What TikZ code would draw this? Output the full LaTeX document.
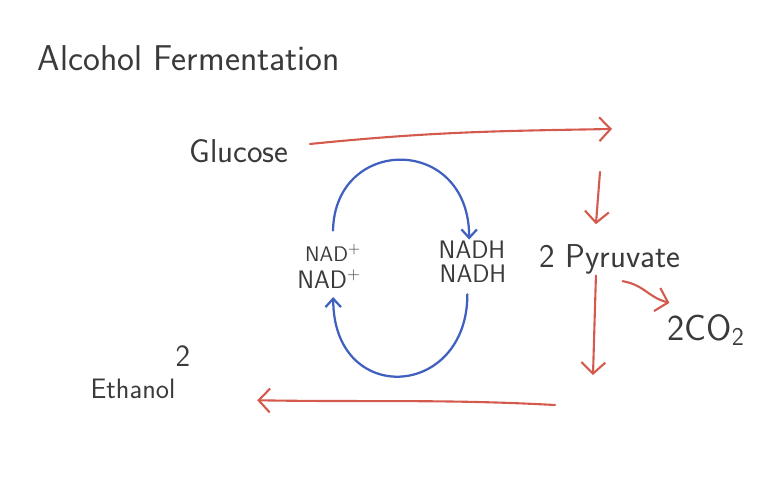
\documentclass[tikz,border=0pt]{standalone}
\usepackage{amsmath}
\usepackage{color, xcolor}
\usepackage{tikz}
\usetikzlibrary{
	calc,
	arrows,
	arrows.meta,
	positioning
	}
\definecolor{rouge}{RGB}{212,90,78}
\definecolor{bleu}{RGB}{64,96,192}
\definecolor{crayon}{RGB}{58,58,58}
\tikzstyle{texte-std}=[text=crayon,font=\sffamily,inner sep=1pt]
\tikzstyle{fleche-rouge}=[draw=rouge,line width=1.5pt,line cap=round,-{Straight Barb[length=8pt,width=17pt]}]
\tikzstyle{fleche-bleue}=[draw=bleu,line width=1.6pt,line cap=round,-{Straight Barb[length=6pt,width=11pt]}]

\begin{document}
\begin{tikzpicture}[x=0.025cm,y=-0.025cm]
\useasboundingbox (0,0) rectangle (778,482);

\node[texte-std,font=\sffamily\fontsize{25.5}{29}\selectfont] (titre) at (189,58) {Alcohol Fermentation};
\node[texte-std,font=\sffamily\fontsize{23.5}{27}\selectfont] (glucose) at (239,151) {Glucose};
\node[texte-std,font=\sffamily\fontsize{23.5}{27}\selectfont] (pyruvate) at (610,259) {2 Pyruvate};
\node[texte-std,font=\sffamily\fontsize{26}{30}\selectfont] (co2) at (706,330) {2CO\textsubscript{2}};
\node[texte-std,font=\sffamily\fontsize{20}{24}\selectfont] (ethanol) at (133,389) {Ethanol};
\node[texte-std,font=\sffamily\fontsize{22}{26}\selectfont] at (183,356) {2};

\node[texte-std,font=\sffamily\fontsize{15}{18}\selectfont] (nadA) at (333,253) {NAD$^+$};
\node[texte-std,font=\sffamily\fontsize{18}{21}\selectfont] (nadB) at (329,279) {NAD$^+$};
\node[texte-std,font=\sffamily\fontsize{18}{21}\selectfont] (nadhA) at (472,250) {NADH};
\node[texte-std,font=\sffamily\fontsize{18}{21}\selectfont] (nadhB) at (473,274) {NADH};

\coordinate (coin) at (612,129);
\coordinate (descente) at (600,172);
\coordinate (bas-pyr) at (593,375);
\coordinate (bas-droite) at (555,405);

\draw[fleche-rouge] ([xshift=14pt,yshift=5pt]glucose.east) .. controls +(120,-12) and +(-120,2) .. (coin);
\draw[fleche-rouge] (descente) -- ([xshift=-10pt,yshift=13pt]pyruvate.north);
\draw[fleche-rouge] ([xshift=-10pt]pyruvate.south) -- (bas-pyr);
\draw[fleche-rouge] ([xshift=9pt,yshift=-4pt]pyruvate.south) .. controls +(22,4) and +(-22,-6) .. ([xshift=-26pt,yshift=7pt]co2.north);
\draw[fleche-rouge] (bas-droite) .. controls +(-110,-6) and +(110,2) .. ([xshift=57pt,yshift=-8pt]ethanol.east);

\draw[fleche-bleue] ([yshift=9pt]nadA.north) .. controls +(2,-95) and +(0,-105) .. ([xshift=-2pt]nadhA.north);
\draw[fleche-bleue] ([yshift=-7pt,xshift=-4pt]nadhB.south) .. controls +(0,105) and +(0,110) .. ([yshift=-5pt,xshift=3pt]nadB.south);
\end{tikzpicture}
\end{document}
